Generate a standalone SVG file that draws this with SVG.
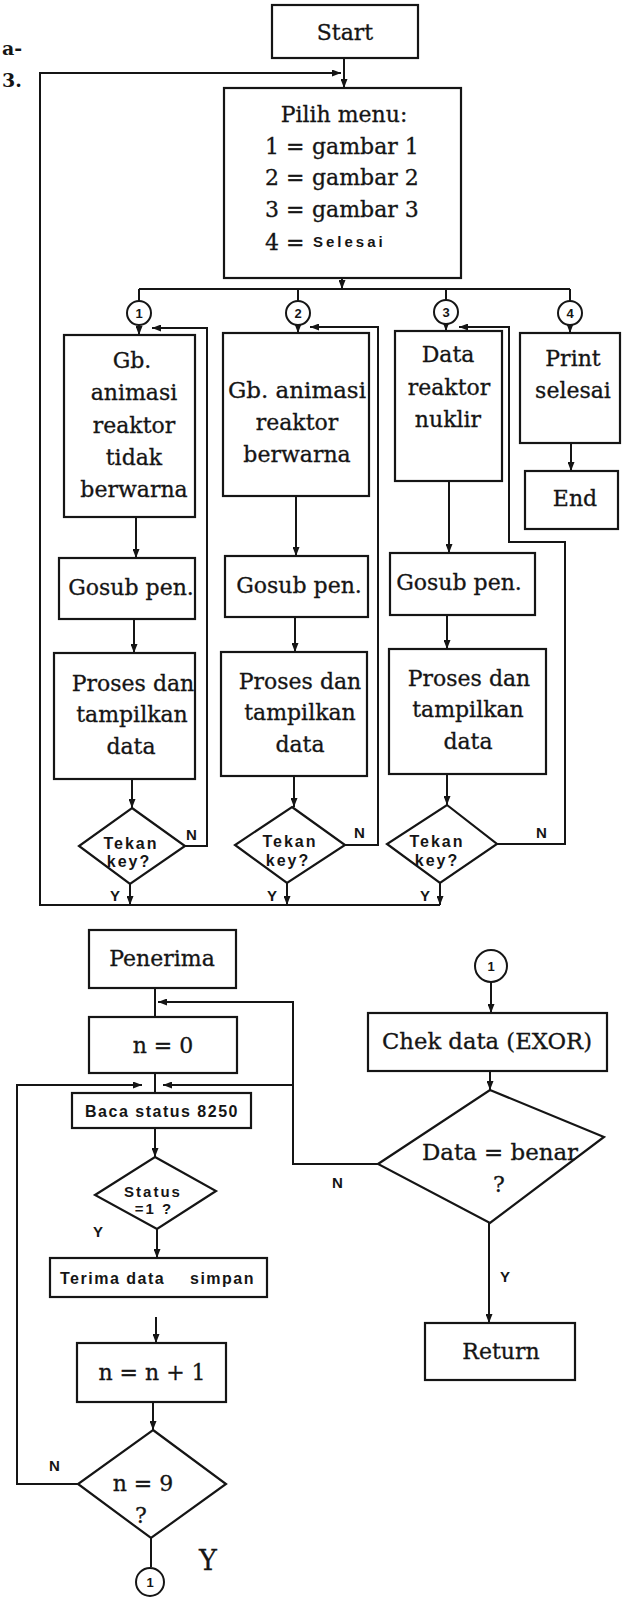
<svg xmlns="http://www.w3.org/2000/svg" width="623" height="1598" viewBox="0 0 623 1598">
<defs>
<marker id="ah" markerUnits="userSpaceOnUse" markerWidth="9" markerHeight="7" refX="9" refY="3.5" orient="auto">
<path d="M0,0 L9,3.5 L0,7 z" fill="#151515"/>
</marker>
<style>
.box{fill:#fff;stroke:#151515;stroke-width:2.2}
.ln{fill:none;stroke:#151515;stroke-width:2}
.ar{fill:none;stroke:#151515;stroke-width:2;marker-end:url(#ah)}
.cir{fill:#fff;stroke:#151515;stroke-width:2}
.sf{font-family:"DejaVu Serif","Liberation Serif",serif;font-size:22px;fill:#151515;stroke:#151515;stroke-width:0.3}
.mid{text-anchor:middle}
.ss{font-family:"Liberation Sans",Arial,sans-serif;font-weight:bold;font-size:16px;letter-spacing:2px;fill:#151515}
.lb{font-family:"Liberation Sans",Arial,sans-serif;font-weight:bold;font-size:15px;fill:#151515}
.num{font-family:"Liberation Sans",Arial,sans-serif;font-weight:bold;font-size:13px;fill:#151515;text-anchor:middle}
.frag{font-family:"DejaVu Serif",serif;font-weight:bold;font-size:19px;fill:#151515}
</style>
</defs>
<rect width="623" height="1598" fill="#fff"/>

<!-- page fragments -->
<text class="frag" x="2" y="55">a-</text>
<text class="frag" x="2" y="87">3.</text>

<g id="connectors">
<path class="ar" d="M344,58 V88"/>
<path class="ar" d="M440,905 H40 V73 H341"/>
<path class="ar" d="M342,278 V289"/>
<path class="ln" d="M139,289 H570"/>
<path class="ln" d="M139,289 V301 M298,289 V301 M446,289 V300 M570,289 V301"/>
<path class="ar" d="M139,325 V335"/>
<path class="ar" d="M298,325 V333"/>
<path class="ar" d="M446,324 V331"/>
<path class="ar" d="M570,325 V333"/>
<path class="ar" d="M185,846 H207 V328 H152"/>
<path class="ar" d="M345,845 H378 V327 H310"/>
<path class="ar" d="M497,844 H565 V542 H509 V327 H459"/>
<path class="ar" d="M571,443 V471"/>
<path class="ar" d="M136,517 V558"/>
<path class="ar" d="M134,619 V653"/>
<path class="ar" d="M132,779 V808"/>
<path class="ar" d="M130,884 V905"/>
<path class="ar" d="M296,496 V556"/>
<path class="ar" d="M295,617 V652"/>
<path class="ar" d="M294,776 V807"/>
<path class="ar" d="M287,883 V905"/>
<path class="ar" d="M449,481 V553"/>
<path class="ar" d="M447,615 V649"/>
<path class="ar" d="M447,774 V805"/>
<path class="ar" d="M440,883 V905"/>

<path class="ln" d="M155,988 V1017"/>
<path class="ar" d="M378,1164 H293 V1002 H158"/>
<path class="ar" d="M293,1085 H163"/>
<path class="ln" d="M155,1073 V1093"/>
<path class="ar" d="M78,1484 H17 V1085 H142"/>
<path class="ar" d="M155,1128 V1157"/>
<path class="ar" d="M157,1229 V1258"/>
<path class="ar" d="M156,1317 V1343"/>
<path class="ar" d="M153,1402 V1430"/>
<path class="ln" d="M151,1538 V1567"/>
<path class="ar" d="M491,982 V1013"/>
<path class="ar" d="M490,1071 V1090"/>
<path class="ar" d="M489,1223 V1323"/>
</g>

<g id="start">
<rect class="box" x="272" y="5" width="146" height="53"/>
<text class="sf mid" x="345" y="40">Start</text>
</g>

<g id="menu">
<rect class="box" x="224" y="88" width="237" height="190"/>
<text class="sf mid" x="344" y="122">Pilih menu:</text>
<text class="sf" x="265" y="154">1 = <tspan x="312">gambar 1</tspan></text>
<text class="sf" x="265" y="185">2 = <tspan x="312">gambar 2</tspan></text>
<text class="sf" x="265" y="217">3 = <tspan x="312">gambar 3</tspan></text>
<text class="sf" x="265" y="250">4 = <tspan x="313" class="ss" style="font-size:15px;letter-spacing:3px;stroke:none" dy="-3">Selesai</tspan></text>
</g>

<g id="conn1"><circle class="cir" cx="139" cy="313" r="12"/><text class="num" x="139" y="318">1</text></g>
<g id="conn2"><circle class="cir" cx="298" cy="313" r="12"/><text class="num" x="298" y="318">2</text></g>
<g id="conn3"><circle class="cir" cx="446" cy="312" r="12"/><text class="num" x="446" y="317">3</text></g>
<g id="conn4"><circle class="cir" cx="570" cy="313" r="12"/><text class="num" x="570" y="318">4</text></g>

<g id="gb1">
<rect class="box" x="64" y="335" width="131" height="182"/>
<text class="sf mid" x="132" y="368">Gb.</text>
<text class="sf mid" x="134" y="400">animasi</text>
<text class="sf mid" x="134" y="433">reaktor</text>
<text class="sf mid" x="134" y="465">tidak</text>
<text class="sf mid" x="134" y="497">berwarna</text>
</g>

<g id="gb2">
<rect class="box" x="223" y="333" width="146" height="163"/>
<text class="sf mid" x="297" y="398" textLength="138" lengthAdjust="spacingAndGlyphs">Gb. animasi</text>
<text class="sf mid" x="297" y="430">reaktor</text>
<text class="sf mid" x="297" y="462">berwarna</text>
</g>

<g id="data3">
<rect class="box" x="395" y="331" width="107" height="150"/>
<text class="sf mid" x="448" y="362">Data</text>
<text class="sf mid" x="449" y="395">reaktor</text>
<text class="sf mid" x="448" y="427">nuklir</text>
</g>

<g id="print4">
<rect class="box" x="520" y="333" width="100" height="110"/>
<text class="sf mid" x="573" y="366">Print</text>
<text class="sf mid" x="573" y="398">selesai</text>
</g>

<g id="end">
<rect class="box" x="525" y="471" width="93" height="58"/>
<text class="sf mid" x="575" y="506">End</text>
</g>

<g id="gosub1"><rect class="box" x="59" y="558" width="136" height="61"/><text class="sf mid" x="131" y="595">Gosub pen.</text></g>
<g id="gosub2"><rect class="box" x="225" y="556" width="143" height="61"/><text class="sf mid" x="299" y="593">Gosub pen.</text></g>
<g id="gosub3"><rect class="box" x="390" y="553" width="145" height="62"/><text class="sf mid" x="459" y="590">Gosub pen.</text></g>

<g id="proses1"><rect class="box" x="54" y="653" width="141" height="126"/>
<text class="sf mid" x="133" y="691">Proses dan</text><text class="sf mid" x="132" y="722">tampilkan</text><text class="sf mid" x="131" y="754">data</text></g>
<g id="proses2"><rect class="box" x="221" y="652" width="146" height="124"/>
<text class="sf mid" x="300" y="689">Proses dan</text><text class="sf mid" x="300" y="720">tampilkan</text><text class="sf mid" x="300" y="752">data</text></g>
<g id="proses3"><rect class="box" x="389" y="649" width="157" height="125"/>
<text class="sf mid" x="469" y="686">Proses dan</text><text class="sf mid" x="468" y="717">tampilkan</text><text class="sf mid" x="468" y="749">data</text></g>

<g id="tekan1"><polygon class="box" points="132,808 185,846 130,884 79,846"/>
<text class="ss mid" x="131" y="849">Tekan</text><text class="ss mid" x="129" y="867">key?</text></g>
<g id="tekan2"><polygon class="box" points="292,807 345,845 287,883 235,845"/>
<text class="ss mid" x="290" y="847">Tekan</text><text class="ss mid" x="288" y="866">key?</text></g>
<g id="tekan3"><polygon class="box" points="447,805 497,844 440,883 387,844"/>
<text class="ss mid" x="437" y="847">Tekan</text><text class="ss mid" x="437" y="866">key?</text></g>

<g id="labels-top">
<text class="lb" x="186" y="840">N</text>
<text class="lb" x="354" y="838">N</text>
<text class="lb" x="536" y="838">N</text>
<text class="lb" x="110" y="901">Y</text>
<text class="lb" x="267" y="901">Y</text>
<text class="lb" x="420" y="901">Y</text>
</g>

<g id="penerima"><rect class="box" x="89" y="930" width="147" height="58"/><text class="sf mid" x="162" y="966">Penerima</text></g>
<g id="n0"><rect class="box" x="89" y="1017" width="148" height="56"/><text class="sf mid" x="163" y="1053">n = 0</text></g>
<g id="baca"><rect class="box" x="72" y="1093" width="179" height="35"/><text class="ss mid" x="162" y="1117" style="letter-spacing:1.5px">Baca status 8250</text></g>
<g id="status"><polygon class="box" points="155,1157 216,1191 157,1229 95,1195"/>
<text class="ss mid" x="153" y="1197" style="font-size:15px">Status</text><text class="ss mid" x="154" y="1214" style="font-size:15px">=1 ?</text>
<text class="lb" x="93" y="1237">Y</text></g>
<g id="terima"><rect class="box" x="50" y="1258" width="217" height="39"/>
<text class="ss" x="60" y="1284" style="letter-spacing:1.5px">Terima data<tspan x="190">simpan</tspan></text></g>
<g id="n-inc"><rect class="box" x="77" y="1343" width="149" height="59"/><text class="sf mid" x="152" y="1380">n = n + 1</text></g>
<g id="n9"><polygon class="box" points="153,1430 226,1484 151,1538 78,1484"/>
<text class="sf mid" x="143" y="1491">n = 9</text><text class="sf mid" x="141" y="1523">?</text>
<text class="lb" x="49" y="1471">N</text></g>
<g id="conn-out"><circle class="cir" cx="150" cy="1582" r="14"/><text class="num" x="150" y="1587">1</text>
<text class="sf" x="199" y="1570" style="font-size:27px">Y</text></g>

<g id="conn-in"><circle class="cir" cx="491" cy="966" r="16"/><text class="num" x="491" y="971">1</text></g>
<g id="chek"><rect class="box" x="368" y="1013" width="239" height="58"/><text class="sf mid" x="487" y="1049" textLength="210" lengthAdjust="spacingAndGlyphs">Chek data (EXOR)</text></g>
<g id="databenar"><polygon class="box" points="490,1090 604,1137 490,1223 378,1164"/>
<text class="sf mid" x="500" y="1160" textLength="156" lengthAdjust="spacingAndGlyphs">Data = benar</text>
<text class="sf mid" x="499" y="1192">?</text>
<text class="lb" x="332" y="1188">N</text>
<text class="lb" x="500" y="1282">Y</text></g>
<g id="return"><rect class="box" x="425" y="1323" width="150" height="57"/><text class="sf mid" x="501" y="1359">Return</text></g>
</svg>
